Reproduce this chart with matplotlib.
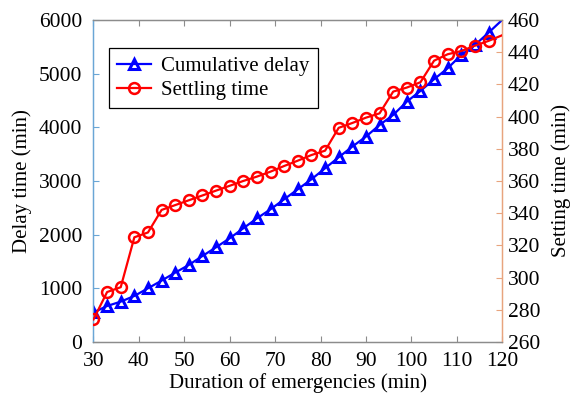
import matplotlib
matplotlib.use("Agg")
import matplotlib.pyplot as plt
from matplotlib.lines import Line2D

plt.rcParams['font.family'] = ['Liberation Serif', 'DejaVu Serif']
plt.rcParams['mathtext.fontset'] = 'stix'

# Duration of emergencies (min)
duration = [30, 33, 36, 39, 42, 45, 48, 51, 54, 57, 60, 63, 66, 69, 72, 75,
            78, 81, 84, 87, 90, 93, 96, 99, 102, 105, 108, 111, 114, 117, 120]
# Cumulative delay (min), left axis
cumulative_delay = [550, 670, 751, 857, 1000, 1143, 1292, 1435, 1602, 1764,
                    1932, 2118, 2304, 2472, 2659, 2845, 3031, 3236, 3441, 3640,
                    3826, 4043, 4230, 4478, 4677, 4895, 5100, 5348, 5534, 5763,
                    6000]
# Settling time (min), right axis
settling_time = [274, 291, 294, 325, 328, 342, 345, 348, 351, 354,
                 357, 360, 362.7, 365.8, 369.3, 372.6, 376.1, 378.8, 393, 396,
                 399.3, 402, 415.5, 418, 421.3, 434.7, 438.7, 440.7, 444, 447,
                 450.5]

x_ticks = [30, 40, 50, 60, 70, 80, 90, 100, 110, 120]
left_ticks = [0, 1000, 2000, 3000, 4000, 5000, 6000]
right_ticks = [260, 280, 300, 320, 340, 360, 380, 400, 420, 440, 460]

fig = plt.figure(figsize=(5.70, 3.99), dpi=100)
ax1 = fig.add_axes([0.164, 0.143, 0.717, 0.807])
ax2 = ax1.twinx()

FS = 15.5
LFS = 15
blue = '#0000ff'
red = '#ff0000'
left_col = '#6aa6d6'
right_col = '#e8a47e'
frame_col = '#8c8c8c'

mark = slice(0, len(duration) - 1)
ax1.plot(duration, cumulative_delay, color=blue, lw=1.6, marker='^',
         ms=7.2, mfc='none', mec=blue, mew=2.2, markevery=mark, zorder=3)
ax2.plot(duration, settling_time, color=red, lw=1.6, marker='o',
         ms=7.8, mfc='none', mec=red, mew=1.8, markevery=mark, zorder=3)

ax1.set_xlim(30, 120)
ax1.set_ylim(0, 6000)
ax2.set_ylim(260, 460)
ax1.set_xticks(x_ticks)
ax1.set_yticks(left_ticks)
ax2.set_yticks(right_ticks)

for ax in (ax1, ax2):
    ax.spines['top'].set_color(frame_col)
    ax.spines['bottom'].set_color(frame_col)
    ax.spines['left'].set_color(left_col)
    ax.spines['right'].set_color(right_col)
    for s in ax.spines.values():
        s.set_linewidth(0.9)

ax1.tick_params(axis='x', direction='in', top=True, length=4, color=frame_col,
                labelsize=FS, pad=7)
ax1.tick_params(axis='y', direction='in', length=4, color=left_col,
                labelsize=FS, pad=8)
ax2.tick_params(axis='y', direction='in', length=4, color=right_col,
                labelsize=FS, pad=4)

ax1.set_xlabel('Duration of emergencies (min)', fontsize=LFS, labelpad=2)
ax1.set_ylabel('Delay time (min)', fontsize=LFS, labelpad=5)
ax2.set_ylabel('Setting time (min)', fontsize=LFS, labelpad=8)

handles = [
    Line2D([], [], color=blue, lw=1.6, marker='^', ms=7.2, mfc='none',
           mec=blue, mew=2.2),
    Line2D([], [], color=red, lw=1.6, marker='o', ms=7.8, mfc='none',
           mec=red, mew=1.8),
]
leg = ax2.legend(handles, ['Cumulative delay', 'Settling time'],
                 loc='upper left', bbox_to_anchor=(0.038, 0.912),
                 fontsize=LFS, frameon=True, fancybox=False, framealpha=1,
                 edgecolor='black', borderpad=0.4, labelspacing=0.2,
                 handlelength=1.6, handletextpad=0.5, borderaxespad=0)
leg.get_frame().set_linewidth(0.9)

fig.savefig('out.png', dpi=100)
